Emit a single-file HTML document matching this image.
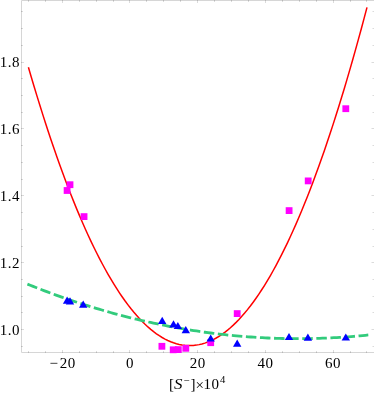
<!DOCTYPE html>
<html><head><meta charset="utf-8"><style>
html,body{margin:0;padding:0;background:#fff;}
svg{display:block;will-change:transform}
text{font-family:"Liberation Serif",serif;font-size:15px;fill:#000}
</style></head><body>
<svg width="374" height="393" viewBox="0 0 374 393">
<rect width="374" height="393" fill="#fff"/>
<path d="M374,0.5H21.5V352.5H374" fill="none" stroke="#d6d6d6" stroke-width="1"/>
<path d="M28.5,353v-2 M28.5,0v2" stroke="#000" stroke-opacity="0.14" stroke-width="1"/>
<path d="M45.5,353v-2 M45.5,0v2" stroke="#000" stroke-opacity="0.14" stroke-width="1"/>
<path d="M62.5,353v-3 M62.5,0v3" stroke="#000" stroke-opacity="0.14" stroke-width="1"/>
<path d="M79.5,353v-2 M79.5,0v2" stroke="#000" stroke-opacity="0.14" stroke-width="1"/>
<path d="M96.5,353v-2 M96.5,0v2" stroke="#000" stroke-opacity="0.14" stroke-width="1"/>
<path d="M113.5,353v-2 M113.5,0v2" stroke="#000" stroke-opacity="0.14" stroke-width="1"/>
<path d="M129.5,353v-3 M129.5,0v3" stroke="#000" stroke-opacity="0.14" stroke-width="1"/>
<path d="M146.5,353v-2 M146.5,0v2" stroke="#000" stroke-opacity="0.14" stroke-width="1"/>
<path d="M163.5,353v-2 M163.5,0v2" stroke="#000" stroke-opacity="0.14" stroke-width="1"/>
<path d="M180.5,353v-2 M180.5,0v2" stroke="#000" stroke-opacity="0.14" stroke-width="1"/>
<path d="M197.5,353v-3 M197.5,0v3" stroke="#000" stroke-opacity="0.14" stroke-width="1"/>
<path d="M214.5,353v-2 M214.5,0v2" stroke="#000" stroke-opacity="0.14" stroke-width="1"/>
<path d="M231.5,353v-2 M231.5,0v2" stroke="#000" stroke-opacity="0.14" stroke-width="1"/>
<path d="M248.5,353v-2 M248.5,0v2" stroke="#000" stroke-opacity="0.14" stroke-width="1"/>
<path d="M265.5,353v-3 M265.5,0v3" stroke="#000" stroke-opacity="0.14" stroke-width="1"/>
<path d="M282.5,353v-2 M282.5,0v2" stroke="#000" stroke-opacity="0.14" stroke-width="1"/>
<path d="M299.5,353v-2 M299.5,0v2" stroke="#000" stroke-opacity="0.14" stroke-width="1"/>
<path d="M316.5,353v-2 M316.5,0v2" stroke="#000" stroke-opacity="0.14" stroke-width="1"/>
<path d="M333.5,353v-3 M333.5,0v3" stroke="#000" stroke-opacity="0.14" stroke-width="1"/>
<path d="M350.5,353v-2 M350.5,0v2" stroke="#000" stroke-opacity="0.14" stroke-width="1"/>
<path d="M366.5,353v-2 M366.5,0v2" stroke="#000" stroke-opacity="0.14" stroke-width="1"/>
<path d="M21,346.5h2 M374,346.5h-1.5" stroke="#000" stroke-opacity="0.14" stroke-width="1"/>
<path d="M21,329.5h3 M374,329.5h-2.5" stroke="#000" stroke-opacity="0.14" stroke-width="1"/>
<path d="M21,312.5h2 M374,312.5h-1.5" stroke="#000" stroke-opacity="0.14" stroke-width="1"/>
<path d="M21,296.5h2 M374,296.5h-1.5" stroke="#000" stroke-opacity="0.14" stroke-width="1"/>
<path d="M21,279.5h2 M374,279.5h-1.5" stroke="#000" stroke-opacity="0.14" stroke-width="1"/>
<path d="M21,262.5h3 M374,262.5h-2.5" stroke="#000" stroke-opacity="0.14" stroke-width="1"/>
<path d="M21,246.5h2 M374,246.5h-1.5" stroke="#000" stroke-opacity="0.14" stroke-width="1"/>
<path d="M21,229.5h2 M374,229.5h-1.5" stroke="#000" stroke-opacity="0.14" stroke-width="1"/>
<path d="M21,212.5h2 M374,212.5h-1.5" stroke="#000" stroke-opacity="0.14" stroke-width="1"/>
<path d="M21,195.5h3 M374,195.5h-2.5" stroke="#000" stroke-opacity="0.14" stroke-width="1"/>
<path d="M21,179.5h2 M374,179.5h-1.5" stroke="#000" stroke-opacity="0.14" stroke-width="1"/>
<path d="M21,162.5h2 M374,162.5h-1.5" stroke="#000" stroke-opacity="0.14" stroke-width="1"/>
<path d="M21,145.5h2 M374,145.5h-1.5" stroke="#000" stroke-opacity="0.14" stroke-width="1"/>
<path d="M21,128.5h3 M374,128.5h-2.5" stroke="#000" stroke-opacity="0.14" stroke-width="1"/>
<path d="M21,112.5h2 M374,112.5h-1.5" stroke="#000" stroke-opacity="0.14" stroke-width="1"/>
<path d="M21,95.5h2 M374,95.5h-1.5" stroke="#000" stroke-opacity="0.14" stroke-width="1"/>
<path d="M21,78.5h2 M374,78.5h-1.5" stroke="#000" stroke-opacity="0.14" stroke-width="1"/>
<path d="M21,62.5h3 M374,62.5h-2.5" stroke="#000" stroke-opacity="0.14" stroke-width="1"/>
<path d="M21,45.5h2 M374,45.5h-1.5" stroke="#000" stroke-opacity="0.14" stroke-width="1"/>
<path d="M21,28.5h2 M374,28.5h-1.5" stroke="#000" stroke-opacity="0.14" stroke-width="1"/>
<path d="M21,11.5h2 M374,11.5h-1.5" stroke="#000" stroke-opacity="0.14" stroke-width="1"/>
<path d="M28.40,67.19 L31.25,76.92 L34.09,86.48 L36.94,95.87 L39.78,105.08 L42.63,114.12 L45.47,122.99 L48.32,131.68 L51.16,140.20 L54.01,148.55 L56.85,156.73 L59.70,164.73 L62.54,172.56 L65.39,180.22 L68.24,187.70 L71.08,195.01 L73.93,202.15 L76.77,209.12 L79.62,215.91 L82.46,222.53 L85.31,228.97 L88.15,235.24 L91.00,241.34 L93.84,247.27 L96.69,253.02 L99.53,258.60 L102.38,264.01 L105.23,269.24 L108.07,274.30 L110.92,279.18 L113.76,283.90 L116.61,288.44 L119.45,292.80 L122.30,297.00 L125.14,301.02 L127.99,304.86 L130.83,308.53 L133.68,312.03 L136.52,315.36 L139.37,318.51 L142.22,321.49 L145.06,324.30 L147.91,326.93 L150.75,329.39 L153.60,331.67 L156.44,333.79 L159.29,335.72 L162.13,337.49 L164.98,339.08 L167.82,340.50 L170.67,341.74 L173.51,342.81 L176.36,343.71 L179.21,344.43 L182.05,344.98 L184.90,345.35 L187.74,345.56 L190.59,345.58 L193.43,345.44 L196.28,345.12 L199.12,344.62 L201.97,343.96 L204.81,343.12 L207.66,342.10 L210.50,340.91 L213.35,339.55 L216.19,338.01 L219.04,336.30 L221.89,334.42 L224.73,332.36 L227.58,330.13 L230.42,327.72 L233.27,325.14 L236.11,322.39 L238.96,319.46 L241.80,316.36 L244.65,313.09 L247.49,309.64 L250.34,306.01 L253.18,302.21 L256.03,298.24 L258.88,294.09 L261.72,289.77 L264.57,285.28 L267.41,280.61 L270.26,275.77 L273.10,270.75 L275.95,265.56 L278.79,260.19 L281.64,254.65 L284.48,248.94 L287.33,243.05 L290.17,236.99 L293.02,230.75 L295.87,224.34 L298.71,217.76 L301.56,211.00 L304.40,204.06 L307.25,196.95 L310.09,189.67 L312.94,182.21 L315.78,174.58 L318.63,166.78 L321.47,158.80 L324.32,150.64 L327.16,142.31 L330.01,133.81 L332.86,125.13 L335.70,116.27 L338.55,107.25 L341.39,98.04 L344.24,88.67 L347.08,79.12 L349.93,69.39 L352.77,59.49 L355.62,49.41 L358.46,39.16 L361.31,28.74 L364.15,18.14 L367.00,7.37" fill="none" stroke="#ff0000" stroke-width="1.5"/>
<path d="M27.40,284.14 L30.26,285.28 L33.13,286.42 L35.99,287.55 L38.86,288.66 L41.72,289.76 L44.59,290.84 L47.45,291.92 L50.32,292.98 L53.18,294.03 L56.05,295.07 L58.91,296.10 L61.78,297.11 L64.64,298.12 L67.51,299.11 L70.37,300.08 L73.24,301.05 L76.10,302.00 L78.96,302.94 L81.83,303.87 L84.69,304.79 L87.56,305.69 L90.42,306.58 L93.29,307.46 L96.15,308.33 L99.02,309.19 L101.88,310.03 L104.75,310.86 L107.61,311.68 L110.48,312.49 L113.34,313.28 L116.21,314.06 L119.07,314.83 L121.94,315.59 L124.80,316.33 L127.66,317.07 L130.53,317.79 L133.39,318.50 L136.26,319.19 L139.12,319.88 L141.99,320.55 L144.85,321.21 L147.72,321.86 L150.58,322.49 L153.45,323.11 L156.31,323.73 L159.18,324.32 L162.04,324.91 L164.91,325.48 L167.77,326.05 L170.64,326.60 L173.50,327.13 L176.36,327.66 L179.23,328.17 L182.09,328.67 L184.96,329.16 L187.82,329.64 L190.69,330.10 L193.55,330.55 L196.42,330.99 L199.28,331.42 L202.15,331.83 L205.01,332.24 L207.88,332.63 L210.74,333.01 L213.61,333.37 L216.47,333.73 L219.34,334.07 L222.20,334.40 L225.06,334.71 L227.93,335.02 L230.79,335.31 L233.66,335.59 L236.52,335.86 L239.39,336.12 L242.25,336.36 L245.12,336.59 L247.98,336.81 L250.85,337.02 L253.71,337.21 L256.58,337.40 L259.44,337.57 L262.31,337.72 L265.17,337.87 L268.04,338.00 L270.90,338.13 L273.76,338.23 L276.63,338.33 L279.49,338.42 L282.36,338.49 L285.22,338.55 L288.09,338.60 L290.95,338.63 L293.82,338.66 L296.68,338.67 L299.55,338.67 L302.41,338.65 L305.28,338.63 L308.14,338.59 L311.01,338.54 L313.87,338.48 L316.74,338.41 L319.60,338.32 L322.46,338.22 L325.33,338.11 L328.19,337.99 L331.06,337.85 L333.92,337.70 L336.79,337.54 L339.65,337.37 L342.52,337.19 L345.38,336.99 L348.25,336.78 L351.11,336.56 L353.98,336.33 L356.84,336.08 L359.71,335.83 L362.57,335.56 L365.44,335.27 L368.30,334.98" fill="none" stroke="#32cb7c" stroke-width="2.8" stroke-dasharray="10.5 3.6"/>
<rect x="66.60" y="181.30" width="6.8" height="6.8" fill="#ff00ff"/>
<rect x="63.70" y="187.10" width="6.8" height="6.8" fill="#ff00ff"/>
<rect x="80.65" y="213.20" width="6.8" height="6.8" fill="#ff00ff"/>
<rect x="158.50" y="342.90" width="6.8" height="6.8" fill="#ff00ff"/>
<rect x="169.80" y="346.40" width="6.8" height="6.8" fill="#ff00ff"/>
<rect x="174.90" y="346.20" width="6.8" height="6.8" fill="#ff00ff"/>
<rect x="182.40" y="344.90" width="6.8" height="6.8" fill="#ff00ff"/>
<rect x="207.30" y="339.30" width="6.8" height="6.8" fill="#ff00ff"/>
<rect x="233.80" y="310.20" width="6.8" height="6.8" fill="#ff00ff"/>
<rect x="285.70" y="207.20" width="6.8" height="6.8" fill="#ff00ff"/>
<rect x="304.80" y="177.50" width="6.8" height="6.8" fill="#ff00ff"/>
<rect x="342.40" y="105.30" width="6.8" height="6.8" fill="#ff00ff"/>
<path d="M67.10,296.60 l4.2,7.2 h-8.4z" fill="#0000ff"/>
<path d="M70.00,297.30 l4.2,7.2 h-8.4z" fill="#0000ff"/>
<path d="M83.20,300.60 l4.2,7.2 h-8.4z" fill="#0000ff"/>
<path d="M162.20,316.80 l4.2,7.2 h-8.4z" fill="#0000ff"/>
<path d="M173.50,320.30 l4.2,7.2 h-8.4z" fill="#0000ff"/>
<path d="M177.85,321.90 l4.2,7.2 h-8.4z" fill="#0000ff"/>
<path d="M185.80,326.10 l4.2,7.2 h-8.4z" fill="#0000ff"/>
<path d="M210.70,334.40 l4.2,7.2 h-8.4z" fill="#0000ff"/>
<path d="M237.20,339.60 l4.2,7.2 h-8.4z" fill="#0000ff"/>
<path d="M289.00,332.90 l4.2,7.2 h-8.4z" fill="#0000ff"/>
<path d="M307.90,333.60 l4.2,7.2 h-8.4z" fill="#0000ff"/>
<path d="M345.80,333.40 l4.2,7.2 h-8.4z" fill="#0000ff"/>
<text x="-0.3" y="67.35" style="letter-spacing:0.5px">1.8</text>
<text x="-0.3" y="134.25" style="letter-spacing:0.5px">1.6</text>
<text x="-0.3" y="201.15" style="letter-spacing:0.5px">1.4</text>
<text x="-0.3" y="268.05" style="letter-spacing:0.5px">1.2</text>
<text x="-0.3" y="334.95" style="letter-spacing:0.5px">1.0</text>
<text x="49.5" y="368.3">−</text>
<text x="59.8" y="368.3" style="letter-spacing:0.5px">20</text>
<text x="125.97" y="368.3" style="letter-spacing:0.5px">0</text>
<text x="189.68" y="368.3" style="letter-spacing:0.5px">20</text>
<text x="257.38" y="368.3" style="letter-spacing:0.5px">40</text>
<text x="325.09" y="368.3" style="letter-spacing:0.5px">60</text>
<text x="169.0" y="389.00" style="font-size:15px" >[</text>
<text transform="translate(174.0,389.00) scale(1.13,1)" style="font-size:15px" font-style="italic">S</text>
<text x="183.5" y="383.80" style="font-size:10.65px" >−</text>
<text x="190.5" y="389.00" style="font-size:15px" >]</text>
<text x="195.4" y="390.00" style="font-size:15px" >×</text>
<text x="203.5" y="389.00" style="font-size:15px" >1</text>
<text x="211.4" y="389.00" style="font-size:15px" >0</text>
<text x="220.0" y="382.70" style="font-size:10.65px" >4</text>
</svg>
</body></html>
